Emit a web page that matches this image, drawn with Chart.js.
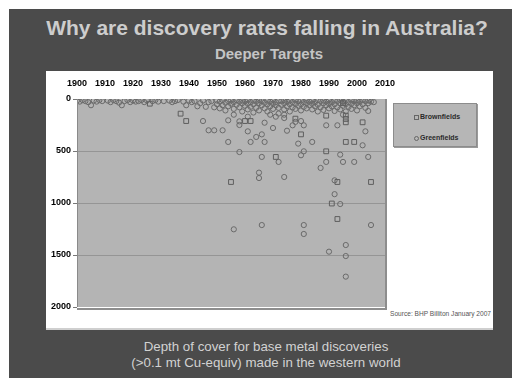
<!DOCTYPE html>
<html>
<head>
<meta charset="utf-8">
<script src="https://cdn.jsdelivr.net/npm/chart.js@4/dist/chart.umd.min.js"></script>
<style>
  html, body { margin: 0; padding: 0; background: #ffffff; }
  #page { position: relative; width: 512px; height: 378px; overflow: hidden; background: #ffffff; font-family: "Liberation Sans", Arial, sans-serif; }
  #slide { position: absolute; left: 9px; top: 9px; width: 503px; height: 369px; background: #4b4b4b; }
  #box { position: absolute; left: 46px; top: 71px; width: 447px; height: 257px; background: #ffffff; border-bottom: 2px solid #cfcfcf; }
  #title { position: absolute; left: 0; width: 534px; top: 17px; text-align: center; font-size: 21px; line-height: 21px; font-weight: bold; color: #cdcdcd; white-space: nowrap; }
  #subtitle { position: absolute; left: 0; width: 538px; top: 46px; text-align: center; font-size: 15px; line-height: 15px; font-weight: bold; color: #c4c4c4; white-space: nowrap; }
  #caption { position: absolute; left: 0; width: 532px; top: 339px; text-align: center; font-size: 13.3px; line-height: 16px; color: #d2d2d2; white-space: nowrap; }
  #source { position: absolute; left: 390px; top: 310px; font-size: 6.6px; line-height: 7px; color: #555555; white-space: nowrap; }
  #legend { position: absolute; left: 393px; top: 103px; width: 82px; height: 42px; background: #b6b6b6; border: 1px solid #8c8c8c; box-shadow: 1px 1px 0 #9a9a9a; }
  .li { position: absolute; left: 26px; font-size: 7px; line-height: 7px; font-weight: bold; color: #2a2a2a; white-space: nowrap; }
  .mk { position: absolute; left: -6px; top: 1.5px; width: 3px; height: 3px; border: 1px solid #666; }
  canvas { position: absolute; left: 0; top: 0; }
</style>
</head>
<body>
<div id="page">
  <div id="slide"></div>
  <div id="box"></div>
  <div id="title">Why are discovery rates falling in Australia?</div>
  <div id="subtitle">Deeper Targets</div>
  <div id="caption">Depth of cover for base metal discoveries<br>(&gt;0.1 mt Cu-equiv) made in the western world</div>
  <div id="source">Source: BHP Billiton January 2007</div>
  <div id="legend">
    <div class="li" style="top:9px"><span class="mk"></span>Brownfields</div>
    <div class="li" style="top:30px"><span class="mk" style="border-radius:50%"></span>Greenfields</div>
  </div>
  <canvas id="c" width="512" height="378"></canvas>
</div>
<script>
// ---- data (year of discovery, depth of cover in metres) ----
const seriesNames = ["Brownfields", "Greenfields"];
const yearTicks = [1900, 1910, 1920, 1930, 1940, 1950, 1960, 1970, 1980, 1990, 2000, 2010];
const depthTicks = [0, 500, 1000, 1500, 2000];

const brownYears  = [1926, 1937, 1939, 1955, 1960, 1962, 1971, 1978, 1980, 1989, 1989, 1991, 1993, 1993, 1996, 1996, 1996, 1996, 1999, 2002, 2005, 1995];
const brownDepths = [  45,  141,  212,  798,  212,  212,  557,  189,  340,  160,  503, 1005,  798, 1154,  160,  192,  224,  413,  413,  224,  798,   40];

const greenYears = [
  1945, 1947, 1949, 1952, 1954, 1954, 1956, 1958, 1958, 1958, 1961, 1961, 1962, 1964, 1966, 1967, 1967, 1966,
  1969, 1970, 1971, 1972, 1965, 1965, 1974, 1974, 1974, 1975, 1977, 1978, 1979, 1980, 1981, 1981, 1980, 1984,
  1989, 1989, 1987, 1993, 1994, 1995, 1995, 1999, 2003, 2002, 2004, 2004, 1992, 1992, 1994, 1956, 1966, 1981,
  1981, 2005, 1996, 1990, 1996, 1996,
  1900, 1901, 1902, 1903, 1904, 1905, 1906, 1907, 1908, 1909, 1911, 1912, 1913, 1914, 1915, 1916, 1917, 1918,
  1919, 1920, 1921, 1922, 1923, 1924, 1925, 1927, 1928, 1929, 1931, 1933, 1934, 1935, 1936, 1938, 1939, 1940,
  1941, 1942, 1943, 1944, 1945, 1946, 1947, 1948, 1949,
  1950, 1950, 1951, 1951, 1952, 1952, 1953, 1953, 1954, 1954, 1955, 1955, 1956, 1956, 1957, 1957, 1958, 1958,
  1959, 1959, 1959, 1960, 1960, 1961, 1961, 1961, 1962, 1962, 1963, 1963, 1963, 1964, 1964, 1965, 1965, 1965,
  1966, 1966, 1967, 1967, 1968, 1968, 1968, 1969, 1969, 1970, 1970, 1970, 1971, 1971, 1972, 1972, 1972, 1973,
  1973, 1974, 1974, 1974, 1975, 1975, 1976, 1976, 1976, 1977, 1977, 1978, 1978, 1978, 1979, 1979, 1980, 1980,
  1980, 1981, 1981, 1982, 1982, 1982, 1983, 1983, 1984, 1984, 1984, 1985, 1985, 1986, 1986, 1986, 1987, 1987,
  1988, 1988, 1988, 1989, 1989, 1990, 1990, 1990, 1991, 1991, 1992, 1992, 1992, 1993, 1993, 1994, 1994, 1994,
  1995, 1995, 1996, 1996, 1996, 1997, 1997, 1998, 1998, 1998, 1999, 1999, 2000, 2000, 2000, 2001, 2001, 2002,
  2002, 2003, 2003, 2004, 2004, 2005, 2006
];
const greenDepths = [
   212,  301,  301,  301,  205,  413,  151,  510,  215,  250,  170,  311,  413,  365,  340,  413,  228,  557,
   151,  279,  170,  605,  708,  760,  750,  151,  183,  305,  253,  220,  429,  212,  253,  503,  541,  413,
   253,  605,  663,  253,  535,  605,  151,  605,  311,  445,  557,  115,  782,  915, 1010, 1253, 1212, 1212,
  1298, 1212, 1404, 1468, 1510, 1708,
    15,   25,   10,   20,   30,   60,   15,   25,   10,   20,   15,   30,   10,   20,   35,   60,   20,   10,
    30,   15,   25,   20,   10,   30,   15,   20,   10,   25,   20,   15,   30,   20,   10,   25,   60,   15,
    30,   20,   70,   40,   15,   75,   30,   20,   80,
    15,   50,   25,   90,   10,   60,   35,  110,   20,   70,   15,   45,   30,   95,   10,   55,   25,   80,
    15,   40,  120,   20,   65,   10,   45,  100,   30,   75,   15,   50,  130,   25,   85,   10,   40,  110,
    20,   60,   35,   90,   15,   50,  120,   25,   70,   10,   45,   95,   30,   60,   15,   85,  140,   20,
    55,   10,   40,  100,   25,   70,   15,   50,  120,   30,   80,   10,   45,   95,   20,   65,   15,   50,
   110,   30,   75,   10,   40,   90,   25,   60,   15,   45,  100,   30,   70,   10,   55,  120,   20,   80,
    15,   40,  105,   25,   60,   10,   45,   90,   30,   70,   15,   50,  115,   20,   80,   10,   40,  100,
    25,   65,   15,   50,  120,   30,   75,   10,   45,   95,   20,   60,   15,   40,  110,   25,   70,   10,
    50,   20,   85,   15,   40,   25,   30
];

const toPoints = (xs, ys) => xs.map((x, i) => ({ x: x, y: ys[i] }));

const plotBg = {
  id: 'plotBg',
  beforeDraw(chart) {
    const { ctx, chartArea: a } = chart;
    ctx.save();
    ctx.fillStyle = '#b4b4b4';
    ctx.fillRect(a.left, a.top, a.right - a.left, a.bottom - a.top);
    ctx.restore();
  },
  afterDatasetsDraw(chart) {
    const { ctx, chartArea: a } = chart;
    ctx.save();
    ctx.strokeStyle = '#8a8a8a';
    ctx.lineWidth = 1;
    ctx.beginPath();
    ctx.moveTo(a.left + 0.5, a.top);
    ctx.lineTo(a.left + 0.5, a.bottom);
    ctx.stroke();
    ctx.lineWidth = 2;
    ctx.strokeStyle = '#8d8d8d';
    ctx.beginPath();
    ctx.moveTo(a.right + 1, a.top);
    ctx.lineTo(a.right + 1, a.bottom + 2);
    ctx.lineTo(a.left, a.bottom + 2);
    ctx.stroke();
    ctx.restore();
  }
};

const tickFont = { family: '"Liberation Sans", Arial, sans-serif', size: 9, weight: 'bold' };

new Chart(document.getElementById('c'), {
  type: 'scatter',
  data: {
    datasets: [
      {
        label: seriesNames[0],
        data: toPoints(brownYears, brownDepths),
        pointStyle: 'rect',
        radius: 3.4,
        borderWidth: 1,
        borderColor: '#5e5e5e',
        backgroundColor: 'rgba(0,0,0,0)'
      },
      {
        label: seriesNames[1],
        data: toPoints(greenYears, greenDepths),
        pointStyle: 'circle',
        radius: 2.6,
        borderWidth: 1,
        borderColor: '#6a6a6a',
        backgroundColor: 'rgba(0,0,0,0)'
      }
    ]
  },
  options: {
    responsive: false,
    animation: false,
    devicePixelRatio: 1,
    layout: { padding: { left: 47, right: 127, top: 79, bottom: 71 } },
    plugins: { legend: { display: false }, tooltip: { enabled: false } },
    scales: {
      x: {
        type: 'linear',
        position: 'top',
        min: yearTicks[0],
        max: yearTicks[yearTicks.length - 1],
        afterBuildTicks: (s) => { s.ticks = yearTicks.map(v => ({ value: v })); },
        afterFit: (s) => { s.height = 20; },
        grid: { display: false, drawTicks: false },
        border: { display: false },
        ticks: { font: tickFont, color: '#000000', padding: 10, maxRotation: 0, autoSkip: false, callback: (v) => String(v) }
      },
      y: {
        type: 'linear',
        reverse: true,
        min: depthTicks[0],
        max: depthTicks[depthTicks.length - 1],
        afterBuildTicks: (s) => { s.ticks = depthTicks.map(v => ({ value: v })); },
        afterFit: (s) => { s.width = 30; },
        grid: {
          color: (c) => (c.tick && c.tick.value > depthTicks[0] && c.tick.value < depthTicks[depthTicks.length - 1]) ? '#959595' : 'rgba(0,0,0,0)',
          tickColor: '#777777',
          tickLength: 4,
          lineWidth: 1
        },
        border: { display: false },
        ticks: { font: tickFont, color: '#000000', padding: 2, autoSkip: false, callback: (v) => String(v) }
      }
    }
  },
  plugins: [plotBg]
});
</script>
</body>
</html>
